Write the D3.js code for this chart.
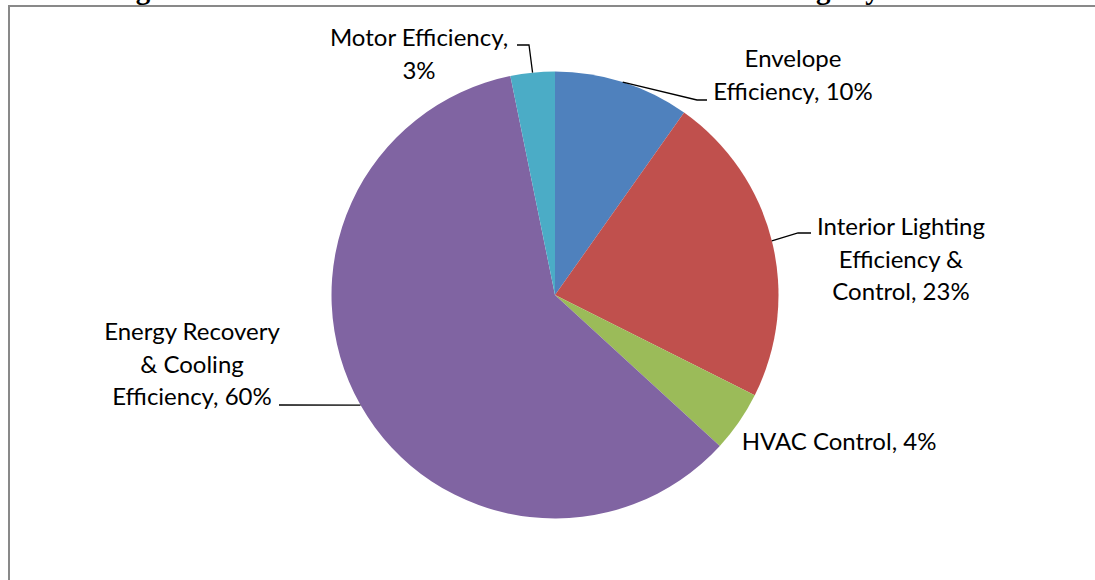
<!DOCTYPE html>
<html>
<head>
<meta charset="utf-8">
<script src="https://cdn.jsdelivr.net/npm/d3@7"></script>
<style>
    body { margin: 0; background: #fff; }
    svg { display: block; }
    .label { font-family: "Lato", "Open Sans", sans-serif; font-size: 24px; fill: #000; }
    .leader { fill: none; stroke: #000; stroke-width: 1.3; }
</style>
</head>
<body>
<div id="chart"></div>
<script>
// slice data, clockwise from 12 o'clock
const categories = ["Envelope Efficiency", "Interior Lighting Efficiency & Control", "HVAC Control",
    "Energy Recovery & Cooling Efficiency", "Motor Efficiency"];
const shares = [9.8, 22.6, 4.4, 60.0, 3.2];
const colors = ["#4F81BD", "#C0504D", "#9BBB59", "#8064A2", "#4BACC6"];

// how each label is wrapped (line breaks only)
const labelBreaks = [
    ["Envelope", "Efficiency, {p}"],
    ["Interior Lighting", "Efficiency &", "Control, {p}"],
    ["HVAC Control, {p}"],
    ["Energy Recovery", "& Cooling", "Efficiency, {p}"],
    ["Motor Efficiency,", "{p}"]
];

const width = 1095, height = 580;
const cx = 555, cy = 295, radius = 223.5;
const lineHeight = 32.5;

// label block placement and leader elbows
const labelLayout = [
    { x: 793, y: 67, leader: [[697, 100], [707, 100]] },
    { x: 901, y: 235, leader: [[798, 233], [811, 233]] },
    { x: 839, y: 450, leader: null },
    { x: 192, y: 340, leader: [[279, 405]] },
    { x: 419, y: 46, leader: [[529, 45], [517, 45]] }
];

const svg = d3.select("#chart").append("svg")
    .attr("width", width)
    .attr("height", height);

// clipped title from the page above the chart
svg.append("text")
    .attr("x", 110)
    .attr("y", -1.5)
    .style("font-family", "'Liberation Serif', serif")
    .style("font-weight", "bold")
    .style("font-size", "29px")
    .text("Figure 4: Estimated Total Annual Electric Demand Savings by Measure");

// chart area border (only top and left are visible)
svg.append("path")
    .attr("d", `M9,${height} V6 H${width}`)
    .attr("fill", "none")
    .attr("stroke", "#898989")
    .attr("stroke-width", 2);

const pie = d3.pie().sort(null).value(d => d);
const arcs = pie(shares);

const arc = d3.arc().innerRadius(0).outerRadius(radius);
const edge = d3.arc().innerRadius(radius).outerRadius(radius);

const g = svg.append("g").attr("transform", `translate(${cx},${cy})`);

g.selectAll("path.slice")
    .data(arcs)
    .join("path")
    .attr("class", "slice")
    .attr("d", arc)
    .attr("fill", (d, i) => colors[i]);

// leader lines from slice edge to label
arcs.forEach((d, i) => {
    const lay = labelLayout[i];
    if (!lay.leader) return;
    const [ex, ey] = edge.centroid(d);
    const pts = [[cx + ex, cy + ey]].concat(lay.leader);
    svg.append("path")
        .attr("class", "leader")
        .attr("d", d3.line()(pts));
});

// labels
arcs.forEach((d, i) => {
    const lay = labelLayout[i];
    const pct = Math.round(d.data) + "%";
    const t = svg.append("text")
        .attr("class", "label")
        .attr("text-anchor", "middle");
    labelBreaks[i].forEach((ln, j) => {
        t.append("tspan")
            .attr("x", lay.x)
            .attr("y", lay.y + j * lineHeight)
            .text(ln.replace("{p}", pct));
    });
});
</script>
</body>
</html>
